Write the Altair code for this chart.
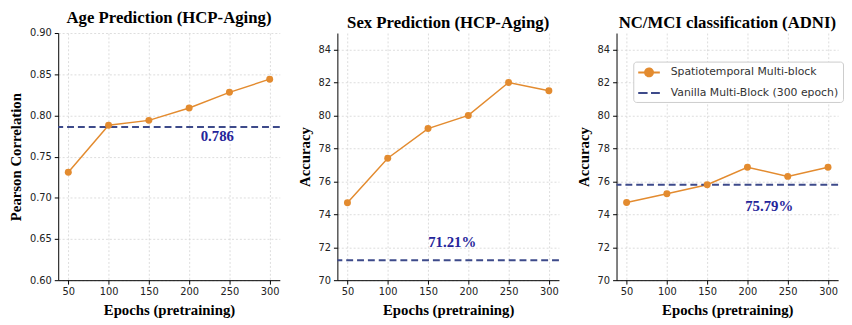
import altair as alt
import pandas as pd

# ---- data ----
epochs = [50, 100, 150, 200, 250, 300]
age_corr = [0.731, 0.788, 0.794, 0.809, 0.828, 0.844]
sex_acc = [74.7, 77.4, 79.2, 80.0, 82.0, 81.5]
mci_acc = [74.72, 75.25, 75.79, 76.85, 76.3, 76.85]

baselines = [0.786, 71.21, 75.79]
baseline_labels = ["0.786", "71.21%", "75.79%"]
label_epochs = [235, 180, 227]
label_values = [0.775, 72.3, 74.5]

titles = ["Age Prediction (HCP-Aging)", "Sex Prediction (HCP-Aging)", "NC/MCI classification (ADNI)"]
y_titles = ["Pearson Correlation", "Accuracy", "Accuracy"]
y_domains = [[0.60, 0.90], [70, 85], [70, 85]]
y_ticks = [[0.60, 0.65, 0.70, 0.75, 0.80, 0.85, 0.90], [70, 72, 74, 76, 78, 80, 82, 84], [70, 72, 74, 76, 78, 80, 82, 84]]
y_formats = [".2f", "d", "d"]
x_ticks = [50, 100, 150, 200, 250, 300]

series_names = ["Spatiotemporal Multi-block", "Vanilla Multi-Block (300 epoch)"]
ORANGE = "#E38B2F"
NAVY = "#3D4A8A"
TEXT_BLUE = "#24249A"

all_values = [age_corr, sex_acc, mci_acc]

W, H = 225, 251

IS_FIRST = "datum.value === 'Spatiotemporal Multi-block'"
# legend glyphs (unit path, scaled by the legend symbol size)
GLYPH_POINT_LINE = "M-1.83,0L1.83,0M-0.67,0A0.67,0.67,0,1,1,0.67,0A0.67,0.67,0,1,1,-0.67,0Z"
GLYPH_LINE = "M-1.83,0L1.83,0"


def panel(i, show_legend):
    df = pd.DataFrame({"epoch": epochs, "value": all_values[i], "series": series_names[0]})
    base_df = pd.DataFrame({"value": [baselines[i]], "series": [series_names[1]]})
    lab_df = pd.DataFrame({"epoch": [label_epochs[i]], "value": [label_values[i]], "text": [baseline_labels[i]]})

    xscale = alt.Scale(domain=[37.5, 312.5], nice=False, zero=False)
    yscale = alt.Scale(domain=y_domains[i], nice=False, zero=False)
    cscale = alt.Scale(domain=series_names, range=[ORANGE, NAVY])

    xaxis = alt.Axis(values=x_ticks, title="Epochs (pretraining)", format="d", labelOverlap=False)
    yaxis = alt.Axis(values=y_ticks[i], title=y_titles[i], format=y_formats[i], labelOverlap=False)
    x = alt.X("epoch:Q", scale=xscale, axis=xaxis)
    y = alt.Y("value:Q", scale=yscale, axis=yaxis)

    if show_legend:
        legend = alt.Legend(
            title=None, orient="none", legendX=17, legendY=29,
            symbolSize=144, symbolStrokeWidth=2, symbolOffset=5,
            labelFont="DejaVu Sans", labelFontSize=11, labelColor="#333333", labelLimit=400,
            strokeColor="#cccccc", fillColor="white", padding=4, cornerRadius=3,
            rowPadding=5, labelOffset=15, symbolOpacity=1,
            symbolType=alt.ExprRef(IS_FIRST + " ? '%s' : '%s'" % (GLYPH_POINT_LINE, GLYPH_LINE)),
            symbolFillColor=alt.ExprRef(IS_FIRST + " ? '%s' : 'transparent'" % ORANGE),
            symbolStrokeColor=alt.ExprRef(IS_FIRST + " ? '%s' : '%s'" % (ORANGE, NAVY)),
            symbolDash=alt.ExprRef(IS_FIRST + " ? [1, 0] : [9.5, 3.5]"),
        )
    else:
        legend = None

    line = alt.Chart(df).mark_line(strokeWidth=1.5).encode(
        x=x, y=y, color=alt.Color("series:N", scale=cscale, legend=legend))
    pts = alt.Chart(df).mark_point(filled=True, size=50, opacity=1).encode(
        x=x, y=y, color=alt.Color("series:N", scale=cscale, legend=legend))
    rule = alt.Chart(base_df).mark_rule(strokeDash=[7, 4], strokeWidth=2).encode(
        y=y, color=alt.Color("series:N", scale=cscale, legend=legend))
    txt = alt.Chart(lab_df).mark_text(font="Liberation Serif", fontWeight="bold", fontSize=15,
                                      color=TEXT_BLUE).encode(x=x, y=y, text="text:N")

    return alt.layer(line, rule, pts, txt).properties(
        width=W, height=H,
        title=alt.TitleParams(titles[i], font="Liberation Serif", fontWeight="bold",
                              fontSize=17, color="black", offset=1),
    )


chart = alt.hconcat(panel(0, False), panel(1, False), panel(2, True), spacing=58.5, bounds="flush").resolve_scale(
    color="independent"
).properties(padding={"left": 0, "top": -1, "right": 0, "bottom": 0}).configure_view(stroke=None).configure_axis(
    labelFont="DejaVu Sans", labelFontSize=10, labelColor="#222222",
    titleFont="Liberation Serif", titleFontWeight="bold", titleFontSize=15, titleColor="black",
    domainColor="black", domainWidth=1, tickColor="black", tickSize=4,
    gridColor="#d4d4d4", gridDash=[2, 2], gridWidth=0.8, labelPadding=3,
).configure_axisY(titlePadding=6).configure_axisX(titlePadding=6)

chart.save("out.html", embed_options={"renderer": "svg", "actions": False})
